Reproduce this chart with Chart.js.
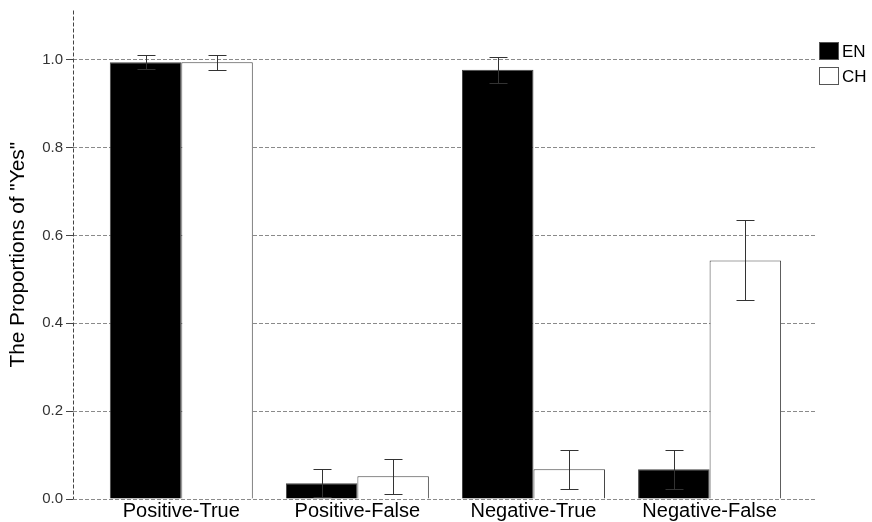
<!DOCTYPE html>
<html>
<head>
<meta charset="utf-8">
<script src="https://cdn.jsdelivr.net/npm/chart.js@4/dist/chart.umd.min.js"></script>
<style>
  html, body { margin: 0; padding: 0; background: #fff; }
  #wrap { width: 872px; height: 522px; }
</style>
</head>
<body>
<div id="wrap"><canvas id="c" width="872" height="522"></canvas></div>
<script>
// Condition labels and proportion of "Yes" answers per language group
const categories = ['Positive-True', 'Positive-False', 'Negative-True', 'Negative-False'];
const seriesNames = ['EN', 'CH'];
const enValues = [0.994, 0.036, 0.977, 0.0675];
const chValues = [0.994, 0.0516, 0.0675, 0.543];
// Error bar half-lengths
const enErrors = [0.016, 0.0315, 0.029, 0.045];
const chErrors = [0.017, 0.040, 0.045, 0.091];
const yTicks = [0, 0.2, 0.4, 0.6, 0.8, 1.0];

const FONT = "'Liberation Sans', Arial, sans-serif";

const toPoints = vals => vals.map((v, i) => ({ x: i, y: v }));

// Dashed vertical y-axis line
const axisLine = {
  id: 'axisLine',
  beforeDatasetsDraw(chart) {
    const { ctx, chartArea } = chart;
    const x = Math.round(chartArea.left) + 0.5;
    ctx.save();
    ctx.strokeStyle = '#444';
    ctx.lineWidth = 1;
    ctx.setLineDash([4, 2]);
    ctx.beginPath();
    ctx.moveTo(x, chartArea.top);
    ctx.lineTo(x, chartArea.bottom);
    ctx.stroke();
    ctx.restore();
  }
};

// Error bars with caps on every bar
const errorBars = {
  id: 'errorBars',
  afterDatasetsDraw(chart) {
    const { ctx } = chart;
    const y = chart.scales.y;
    const errs = [enErrors, chErrors];
    ctx.save();
    ctx.strokeStyle = '#333';
    ctx.lineWidth = 1;
    chart.data.datasets.forEach((ds, d) => {
      const meta = chart.getDatasetMeta(d);
      meta.data.forEach((bar, i) => {
        const v = ds.data[i].y;
        const e = errs[d][i];
        const x = Math.round(bar.x) + 0.5;
        const yTop = Math.round(y.getPixelForValue(v + e)) + 0.5;
        const yBot = Math.round(y.getPixelForValue(v - e)) + 0.5;
        const hw = 9;
        ctx.beginPath();
        ctx.moveTo(x, yTop); ctx.lineTo(x, yBot);
        ctx.moveTo(x - hw, yTop); ctx.lineTo(x + hw, yTop);
        ctx.moveTo(x - hw, yBot); ctx.lineTo(x + hw, yBot);
        ctx.stroke();
      });
    });
    ctx.restore();
  }
};

// Legend boxes at the upper right
const cornerLegend = {
  id: 'cornerLegend',
  afterDraw(chart) {
    const { ctx, chartArea } = chart;
    const x0 = chartArea.right + 2;
    const top = 42;
    ctx.save();
    chart.data.datasets.forEach((ds, d) => {
      const yy = top + d * 25;
      ctx.fillStyle = ds.backgroundColor;
      ctx.fillRect(x0, yy, 20, 18);
      ctx.strokeStyle = '#555';
      ctx.lineWidth = 1;
      ctx.strokeRect(x0 + 0.5, yy + 0.5, 19, 17);
      ctx.fillStyle = '#000';
      ctx.font = '17px ' + FONT;
      ctx.textBaseline = 'middle';
      ctx.textAlign = 'left';
      ctx.fillText(ds.label, x0 + 23, yy + 10);
    });
    ctx.restore();
  }
};

new Chart(document.getElementById('c'), {
  type: 'bar',
  data: {
    datasets: [
      { label: seriesNames[0], data: toPoints(enValues), backgroundColor: '#000000', borderColor: '#444', borderWidth: 1 },
      { label: seriesNames[1], data: toPoints(chValues), backgroundColor: '#ffffff', borderColor: '#444', borderWidth: 1 }
    ]
  },
  options: {
    responsive: false,
    animation: false,
    devicePixelRatio: 1,
    categoryPercentage: 0.812,
    barPercentage: 1,
    layout: { padding: { top: 9, right: 55, left: 0, bottom: 0 } },
    plugins: { legend: { display: false }, tooltip: { enabled: false } },
    scales: {
      x: {
        type: 'linear',
        offset: false,
        min: -0.615,
        max: 3.61,
        grid: { display: false, drawTicks: false },
        border: { display: false },
        afterBuildTicks: s => { s.ticks = categories.map((c, i) => ({ value: i })); },
        ticks: {
          autoSkip: false, maxRotation: 0,
          callback: v => categories[v] ?? '',
          font: { family: FONT, size: 20, lineHeight: 1 },
          color: '#000',
          padding: 2
        },
        afterFit: s => { s.height = 23; }
      },
      y: {
        min: 0,
        max: 1.112,
        afterBuildTicks: s => { s.ticks = yTicks.map(v => ({ value: v })); },
        grid: { color: '#8a8a8a', lineWidth: 1, tickLength: 7, tickColor: '#444', tickBorderDash: [] },
        border: { display: false, dash: [4, 2] },
        ticks: {
          callback: v => Number(v).toFixed(1),
          font: { family: FONT, size: 15, lineHeight: 1 },
          color: '#333',
          padding: 3
        },
        title: {
          display: true,
          text: 'The Proportions of "Yes"',
          font: { family: FONT, size: 20.8 },
          color: '#000',
          padding: { top: 6, bottom: 0 }
        },
        afterFit: s => { s.width = 73; }
      }
    }
  },
  plugins: [axisLine, errorBars, cornerLegend]
});
</script>
</body>
</html>
